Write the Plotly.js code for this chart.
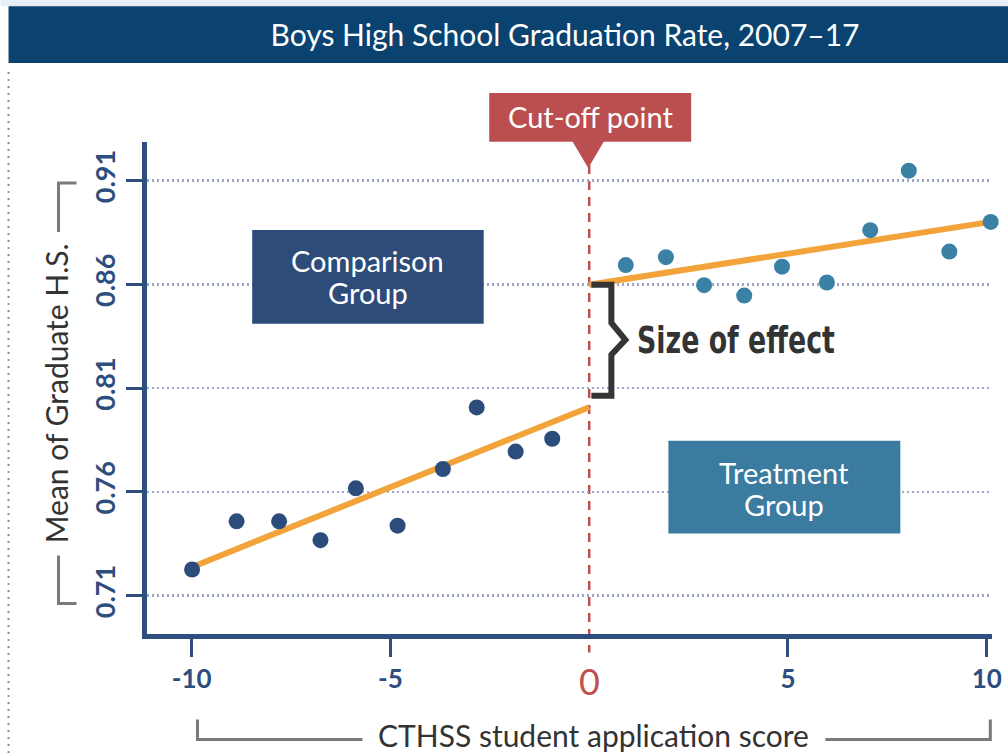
<!DOCTYPE html>
<html>
<head>
<meta charset="utf-8">
<script src="https://cdn.plot.ly/plotly-3.0.1.min.js"></script>
<style>html,body{margin:0;padding:0;background:#fff;}#chart{width:1008px;height:754px;}</style>
</head>
<body>
<div id="chart"></div>
<script>
// ---- data ----
const comparisonX = [-9.99, -8.87, -7.80, -6.76, -5.87, -4.82, -3.68, -2.83, -1.85, -0.93];
const comparisonY = [0.7226, 0.7458, 0.7458, 0.7367, 0.7617, 0.7437, 0.7710, 0.8007, 0.7794, 0.7856];
const treatmentX = [0.92, 1.93, 2.89, 3.90, 4.85, 5.98, 7.07, 8.04, 9.06, 10.10];
const treatmentY = [0.8693, 0.8731, 0.8596, 0.8546, 0.8685, 0.8609, 0.8861, 0.9148, 0.8758, 0.8901];
const fitLeftX = [-10, 0];
const fitLeftY = [0.7237, 0.8008];
const fitRightX = [0, 10.10];
const fitRightY = [0.8598, 0.8901];
const xTickVals = [-10, -5, 5, 10];
const xTickText = ['-10', '-5', '5', '10'];
const yTickVals = [0.71, 0.76, 0.81, 0.86, 0.91];
const yTickText = ['0.71', '0.76', '0.81', '0.86', '0.91'];
const cutoffValue = 0;

// ---- layout geometry ----
const W = 1008, H = 754;
const L = 146.5, R = 991.7, T = 142, B = 634.5;
const xRange = [-11.124, 10.133];
const yRange = [0.6915, 0.9286];
const X = px => (px - L) / (R - L);
const Y = py => (B - py) / (B - T);
const cutPx = L + (cutoffValue - xRange[0]) / (xRange[1] - xRange[0]) * (R - L);

const NAVY = '#2d4e7e';
const TEAL = '#3b80a5';
const ORANGE = '#f2a33a';
const RED = '#bb4f4f';
const DARK = '#333333';
const FONT = 'Lato, "Open Sans", sans-serif';

function pathP(cmds) {
  return cmds.map(c => c[0] + ' ' + X(c[1]).toFixed(5) + ',' + Y(c[2]).toFixed(5)).join(' ');
}

const traces = [
  {x: fitLeftX, y: fitLeftY, mode: 'lines', line: {color: ORANGE, width: 6}, hoverinfo: 'skip', cliponaxis: false},
  {x: fitRightX, y: fitRightY, mode: 'lines', line: {color: ORANGE, width: 6}, hoverinfo: 'skip', cliponaxis: false},
  {x: comparisonX, y: comparisonY, mode: 'markers', marker: {color: '#2c4d7b', size: 16}, cliponaxis: false},
  {x: treatmentX, y: treatmentY, mode: 'markers', marker: {color: TEAL, size: 16}, cliponaxis: false}
];

const shapes = [
  {type: 'rect', xref: 'paper', yref: 'paper', x0: X(0), x1: X(W), y0: Y(0), y1: Y(6), fillcolor: '#e8eef6', line: {width: 0}, layer: 'below'},
  {type: 'rect', xref: 'paper', yref: 'paper', x0: X(8), x1: X(W), y0: Y(6), y1: Y(63), fillcolor: '#0a4270', line: {width: 0}, layer: 'below'},
  {type: 'line', xref: 'paper', yref: 'paper', x0: X(8), x1: X(8), y0: Y(72), y1: Y(754), line: {color: '#7f8fb3', width: 2, dash: '2px,5px'}},
  {type: 'line', xref: 'x', yref: 'paper', x0: cutoffValue, x1: cutoffValue, y0: Y(165), y1: Y(653), line: {color: RED, width: 2.5, dash: '9px,7px'}, layer: 'between'},
  {type: 'rect', xref: 'paper', yref: 'paper', x0: X(cutPx - 100), x1: X(cutPx + 102), y0: Y(93), y1: Y(141.7), fillcolor: RED, line: {width: 0}},
  {type: 'path', xref: 'paper', yref: 'paper', path: pathP([['M', cutPx - 17, 141], ['L', cutPx + 15, 141], ['L', cutPx - 1, 168]]) + ' Z', fillcolor: RED, line: {width: 0}},
  {type: 'rect', xref: 'paper', yref: 'paper', x0: X(251.7), x1: X(483.3), y0: Y(230), y1: Y(324), fillcolor: '#2d4c7a', line: {width: 0}},
  {type: 'rect', xref: 'paper', yref: 'paper', x0: X(668), x1: X(900), y0: Y(441), y1: Y(534), fillcolor: '#3b7b9f', line: {width: 0}},
  {type: 'path', xref: 'paper', yref: 'paper', path: pathP([['M', 591, 285], ['L', 611, 285], ['L', 611, 323], ['L', 625, 340], ['L', 611, 355], ['L', 611, 396], ['L', 591, 396]]), line: {color: '#353535', width: 6}},
  {type: 'path', xref: 'paper', yref: 'paper', path: pathP([['M', 76, 183], ['L', 58, 183], ['L', 58, 232], ['M', 58, 556], ['L', 58, 604], ['L', 76, 604]]), line: {color: '#7a7a7a', width: 3}},
  {type: 'path', xref: 'paper', yref: 'paper', path: pathP([['M', 197, 720], ['L', 197, 740], ['L', 362, 740], ['M', 825, 740], ['L', 990, 740], ['L', 990, 720]]), line: {color: '#7a7a7a', width: 3}}
];

function ann(text, px, py, font, extra) {
  return Object.assign({text: text, xref: 'paper', yref: 'paper', x: X(px), y: Y(py), xanchor: 'center', yanchor: 'middle', showarrow: false, font: font}, extra || {});
}

const boxFont = {family: FONT, size: 29, color: '#ffffff'};
const annotations = [
  ann('Cut-off point', cutPx + 1, 116, {family: FONT, size: 29, color: '#ffffff'}),
  ann('Comparison', 367.5, 261, boxFont),
  ann('Group', 367.5, 293, boxFont),
  ann('Treatment', 784, 473, boxFont),
  ann('Group', 784, 505, boxFont),
  ann('Size of effect', 635, 340, {family: '"DejaVu Sans Condensed", "DejaVu Sans", sans-serif', size: 38, color: '#333333', weight: 'bold'}, {xanchor: 'left', name: 'effect'}),
  ann('0', cutPx, 682, {family: FONT, size: 36, color: '#c0504d'}),
  ann('Mean of Graduate H.S.', 55, 394, {family: FONT, size: 30, color: DARK}, {textangle: -90}),
  ann('CTHSS student application score', 593, 736, {family: FONT, size: 30, color: DARK})
];

const layout = {
  width: W, height: H,
  margin: {l: L, r: W - R, t: T, b: H - B, pad: 0},
  paper_bgcolor: '#ffffff', plot_bgcolor: '#ffffff',
  showlegend: false,
  title: {text: 'Boys High School Graduation Rate, 2007–17', xref: 'container', yref: 'container', x: 565 / W, y: 1 - 35 / H, xanchor: 'center', yanchor: 'middle', font: {family: FONT, size: 30, color: '#ffffff'}},
  xaxis: {
    range: xRange, tickmode: 'array', tickvals: xTickVals, ticktext: xTickText,
    showgrid: false, zeroline: false, showline: true, linecolor: NAVY, linewidth: 5,
    ticks: 'outside', ticklen: 18, tickwidth: 3, tickcolor: NAVY,
    tickfont: {family: FONT, size: 26, color: NAVY, weight: 'bold'}
  },
  yaxis: {
    range: yRange, tickmode: 'array', tickvals: yTickVals, ticktext: yTickText, tickangle: -90,
    showgrid: true, gridcolor: '#9ea6c6', gridwidth: 2.5, griddash: '2px,3px',
    zeroline: false, showline: true, linecolor: NAVY, linewidth: 5,
    ticks: 'outside', ticklen: 16, tickwidth: 3, tickcolor: NAVY,
    tickfont: {family: FONT, size: 27, color: NAVY, weight: 'bold'}
  },
  shapes: shapes,
  annotations: annotations
};

Plotly.newPlot('chart', traces, layout, {displayModeBar: false, staticPlot: true}).then(function (gd) {
  // horizontally condense the "Size of effect" label to mimic the condensed typeface
  const texts = gd.querySelectorAll('.annotation-text');
  texts.forEach(function (t) {
    if (t.textContent === 'Size of effect') {
      const bb = t.getBBox();
      const targetW = 198;
      const s = Math.min(1, targetW / bb.width);
      const x0 = bb.x;
      t.setAttribute('transform', 'translate(' + x0 + ',0) scale(' + s + ',1) translate(' + (-x0) + ',0)');
    }
  });
});
</script>
</body>
</html>
